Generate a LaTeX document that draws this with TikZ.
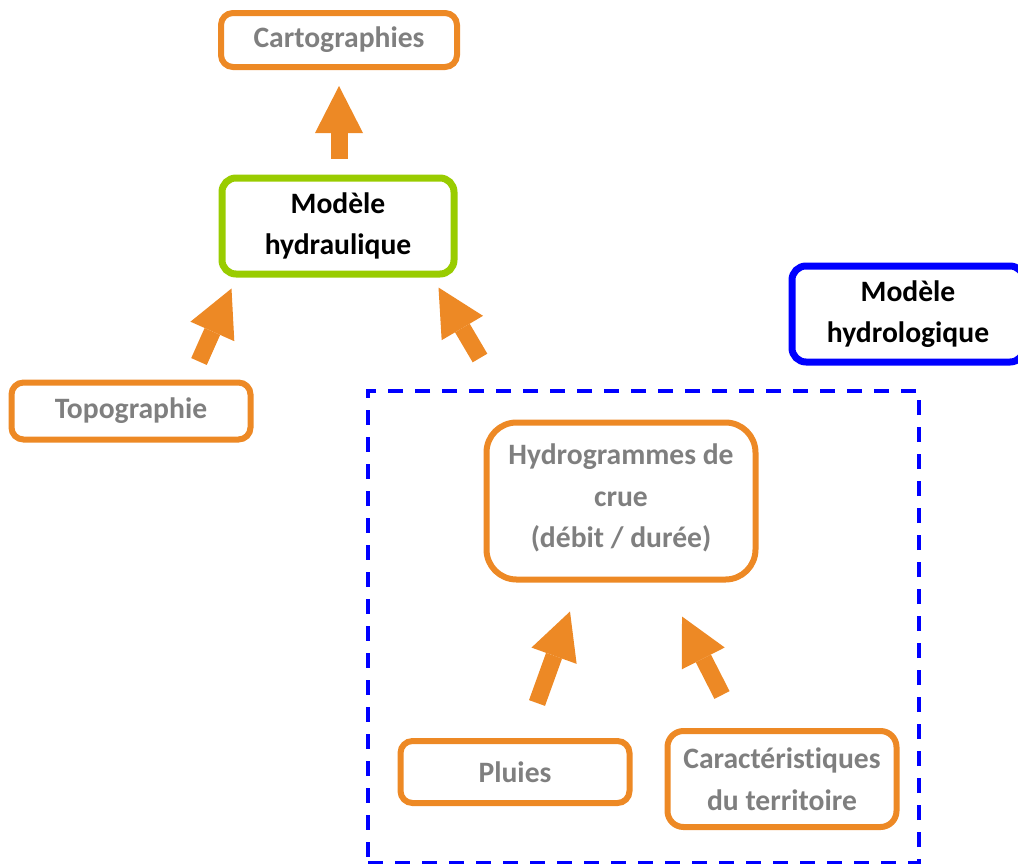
\documentclass[tikz,border=0pt]{standalone}
\usepackage{fontspec}
\setmainfont[Ligatures={NoCommon}]{Carlito}
\usepackage{tikz}
\tikzset{>=latex}
\usetikzlibrary{arrows.meta}
\usetikzlibrary{calc}
\definecolor{flow}{RGB}{237,137,37}
\definecolor{hydraulic}{RGB}{153,204,0}
\definecolor{hydrologic}{RGB}{0,0,255}
\definecolor{greytext}{RGB}{127,127,127}

\begin{document}
\begin{tikzpicture}[
        x=0.5pt,y=-0.5pt,
        every node/.style={font=\fontsize{14.8}{20.8}\selectfont\bfseries,align=center},
        databox/.style={draw=flow,line width=3pt,rounded corners=6pt,text=greytext,
            minimum width=114.5pt,inner sep=0pt},
        modelbox/.style={line width=3.5pt,rounded corners=7pt,text=black,
            minimum width=116pt,minimum height=48pt,inner sep=0pt},
        dashbox/.style={draw=hydrologic,line width=2pt,dash pattern=on 7.5pt off 6pt,
            minimum width=275.5pt,minimum height=236pt,inner sep=0pt},
        bigarrow/.style={draw=flow,line width=8.5pt,
            -{Triangle[length=23.5pt,width=24pt,line width=0pt]}}
    ]
    \clip (0,0) rectangle (1018,863);
    % models
    \node[modelbox,draw=hydraulic] (hydrau) at (338,226) {Modèle\\hydraulique};
    \node[modelbox,draw=hydrologic] (hydrolo) at (908,314) {Modèle\\hydrologique};
    % data
    \node[databox,minimum width=118pt,minimum height=27pt] (carto) at (339,40) {Cartographies};
    \node[databox,minimum width=119.5pt,minimum height=28.5pt] (topo) at (131,411) {Topographie};
    \node[dashbox] (bassin) at (643.5,627) {};
    \node[databox,minimum width=134.5pt,minimum height=78.5pt,rounded corners=15pt] (hydrog) at (621,501)
        {Hydrogrammes de\\crue\\(débit / durée)\rule[-5pt]{0pt}{5pt}};
    \node[databox,minimum height=31pt] (pluies) at (515,772) {Pluies};
    \node[databox,minimum height=48pt,rounded corners=8pt] (territ) at (782,779)
        {Caractéristiques\\du territoire};
    % arrows
    \draw[bigarrow] ($(hydrau.north)+(1,-16)$) -- ($(carto.south)+(0,16)$);
    \draw[bigarrow] ($(topo.north)+(68,-18)$) -- ($(hydrau.south west)+(13,11)$);
    \draw[bigarrow] ($(bassin.north west)+(114,-31)$) -- ($(hydrau.south east)+(-19,10)$);
    \draw[bigarrow] ($(pluies.north)+(22,-35)$) -- ($(hydrog.south)+(-51,29)$);
    \draw[bigarrow] ($(territ.north)+(-60,-33)$) -- ($(hydrog.south)+(61,34)$);
\end{tikzpicture}
\end{document}
